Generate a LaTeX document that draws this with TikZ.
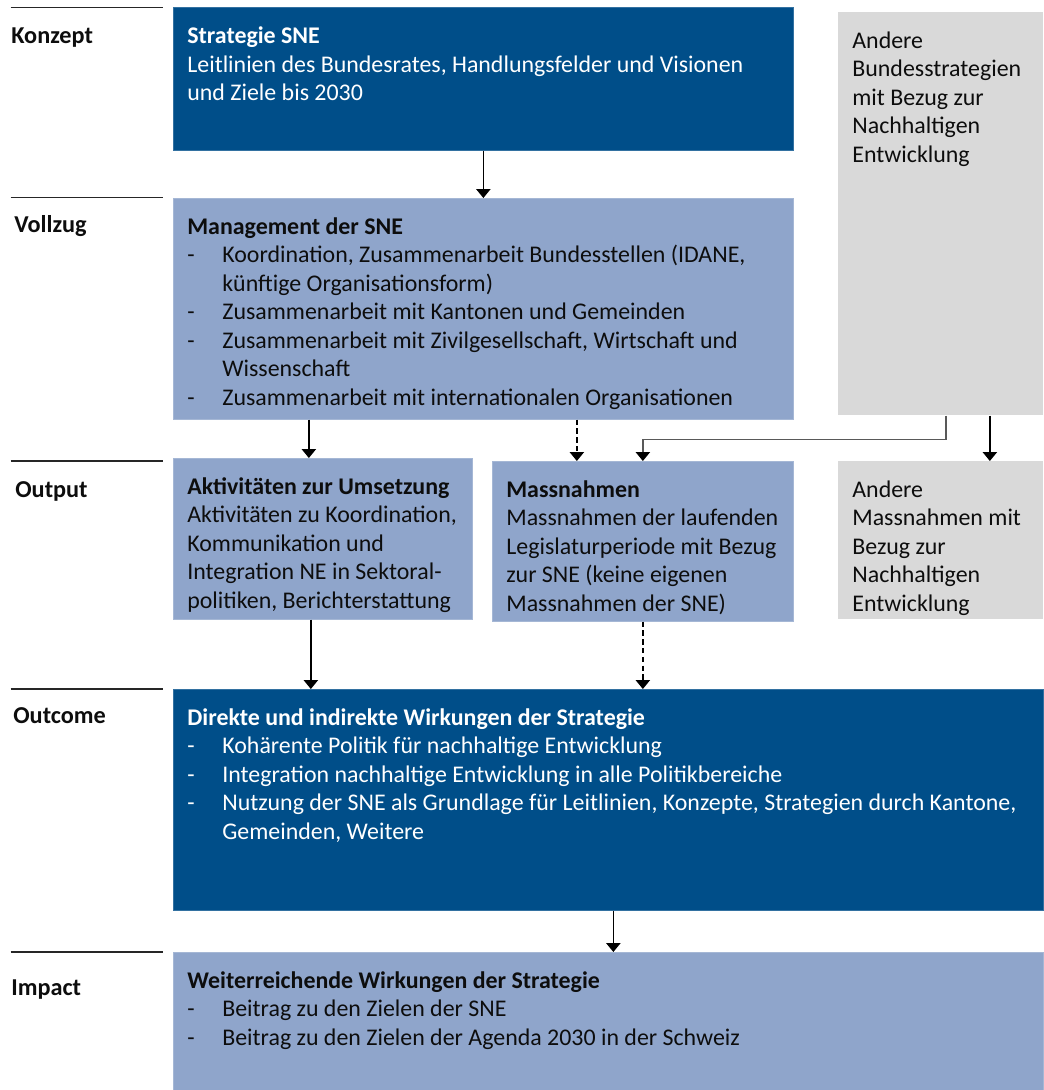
\documentclass[tikz,border=0pt]{standalone}
\usepackage{fontspec}
\setmainfont{Carlito}
\usepackage{tikz}
\usetikzlibrary{arrows.meta, positioning}
\definecolor{snedark}{RGB}{0, 78, 137}
\definecolor{snelight}{RGB}{143, 165, 203}
\definecolor{snegrey}{RGB}{217, 217, 217}
\definecolor{snetext}{RGB}{13, 13, 13}

% box body: width, height (cm), text
\newcommand{\panelbody}[3]{\parbox[c][\dimexpr#2cm-0.64cm\relax][t]{\dimexpr#1cm-0.56cm\relax}{\raggedright\strut#3}}
\newcommand{\dashline}[1]{\par\hangindent=0.7cm\hangafter=1\noindent\makebox[0.7cm][l]{-}#1}

\begin{document}
\begin{tikzpicture}[
    panel/.style={fill=#1, draw=#1!80!white, line width=0.4pt, anchor=north west,
                  inner xsep=0.28cm, inner ysep=0.32cm, font=\fontsize{13.6}{16.2}\selectfont},
    darkpanel/.style={panel=snedark, text=white},
    lightpanel/.style={panel=snelight, text=snetext},
    greypanel/.style={panel=snegrey, draw=none, text=snetext},
    stage/.style={anchor=base west, inner sep=0, font=\fontsize{13.8}{16}\selectfont\bfseries, text=snetext},
    arr/.style={-{Triangle[width=8pt,length=5pt]}, line width=0.75pt, draw=black},
    dashedline/.style={dash pattern=on 3pt off 2pt}
]
    \useasboundingbox (0,0) rectangle (20.86,-21.8);

    % stages on the left
    \foreach \y in {-0.15, -3.95, -9.22, -13.78, -19.04}
        \draw[line width=0.75pt, black!85] (0.21,\y) -- (3.25,\y);
    \node[stage] (konzept) at (0.22,-0.87) {Konzept};
    \node[stage] (vollzug) at (0.28,-4.66) {Vollzug};
    \node[stage] (output) at (0.30,-9.94) {Output};
    \node[stage] (outcome) at (0.26,-14.46) {Outcome};
    \node[stage] (impact) at (0.22,-19.9) {Impact};

    % boxes
    \node[darkpanel] (sne) at (3.46,-0.15) {\panelbody{12.4}{2.85}{%
        \textbf{Strategie SNE}\\
        Leitlinien des Bundesrates, Handlungsfelder und Visionen\\
        und Ziele bis 2030}};
    \node[greypanel] (strat2) at (16.76,-0.24) {\panelbody{4.1}{8.06}{%
        Andere\\ Bundesstrategien\\ mit Bezug zur\\ Nachhaltigen\\ Entwicklung}};
    \node[lightpanel] (mgmt) at (3.46,-3.96) {\panelbody{12.4}{4.42}{%
        \textbf{Management der SNE}
        \dashline{Koordination, Zusammenarbeit Bundesstellen (IDANE,\newline künftige Organisationsform)}
        \dashline{Zusammenarbeit mit Kantonen und Gemeinden}
        \dashline{Zusammenarbeit mit Zivilgesellschaft, Wirtschaft und\newline Wissenschaft}
        \dashline{Zusammenarbeit mit internationalen Organisationen}}};
    \node[lightpanel] (akt) at (3.46,-9.16) {\panelbody{5.98}{3.22}{%
        \textbf{Aktivitäten zur Umsetzung}\\
        Aktivitäten zu Koordination,\\ Kommunikation und\\
        Integration NE in Sektoral-\\ politiken, Berichterstattung}};
    \node[lightpanel] (mass) at (9.84,-9.22) {\panelbody{6.02}{3.2}{%
        \textbf{Massnahmen}\\
        Massnahmen der laufenden\\ Legislaturperiode mit Bezug\\
        zur SNE (keine eigenen\\ Massnahmen der SNE)}};
    \node[greypanel] (mass2) at (16.76,-9.22) {\panelbody{4.1}{3.16}{%
        Andere\\ Massnahmen mit\\ Bezug zur\\ Nachhaltigen\\ Entwicklung}};
    \node[darkpanel] (direkt) at (3.46,-13.78) {\panelbody{17.4}{4.42}{%
        \textbf{Direkte und indirekte Wirkungen der Strategie}
        \dashline{Kohärente Politik für nachhaltige Entwicklung}
        \dashline{Integration nachhaltige Entwicklung in alle Politikbereiche}
        \dashline{Nutzung der SNE als Grundlage für Leitlinien, Konzepte, Strategien durch Kantone,\newline Gemeinden, Weitere}}};
    \node[lightpanel] (weiter) at (3.46,-19.04) {\panelbody{17.4}{2.76}{%
        \textbf{Weiterreichende Wirkungen der Strategie}
        \dashline{Beitrag zu den Zielen der SNE}
        \dashline{Beitrag zu den Zielen der Agenda 2030 in der Schweiz}}};

    % connectors
    \draw[arr] (sne.south) -- (mgmt.north);
    \draw[arr] ([xshift=-0.28cm]akt.north |- mgmt.south) -- ([xshift=-0.28cm]akt.north);
    \draw[arr, dashedline] ([xshift=-1.32cm]mass.north |- mgmt.south) -- ([xshift=-1.32cm]mass.north);
    \draw[arr, draw=black!65, -{Triangle[width=8pt,length=5pt,black]}] ([xshift=0.1cm]strat2.south) -- ++(0,-0.48) -| (mass.north);
    \draw[arr] ([xshift=0.98cm]mass2.north |- strat2.south) -- ([xshift=0.98cm]mass2.north);
    \draw[arr] ([xshift=-0.24cm]akt.south) -- ([xshift=-0.24cm]akt.south |- direkt.north);
    \draw[arr, dashedline] (mass.south) -- (mass.south |- direkt.north);
    \draw[arr] ([xshift=0.1cm]direkt.south) -- ([xshift=0.1cm]direkt.south |- weiter.north);
\end{tikzpicture}
\end{document}
